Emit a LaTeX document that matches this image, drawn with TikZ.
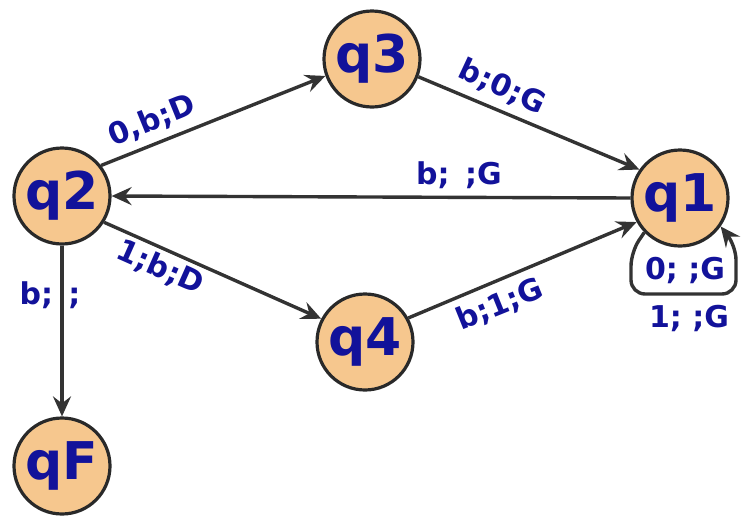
\documentclass[tikz,border=0pt]{standalone}
\usepackage{fontspec}
\setmainfont{DejaVu Sans}
\usetikzlibrary{arrows.meta}
\definecolor{stfill}{HTML}{F6C78E}
\definecolor{txtblue}{HTML}{12129A}
\definecolor{edgec}{HTML}{333333}
\tikzset{
  state/.style={circle, draw=edgec!80!black, line width=3.2pt, fill=stfill, minimum size=96pt, inner sep=0pt,
    text=txtblue, font=\fontsize{52}{52}\selectfont\bfseries},
  lab/.style={text=txtblue, font=\fontsize{30}{30}\selectfont\bfseries, inner sep=0pt},
  edge/.style={draw=edgec, line width=3.4pt, -{Stealth[length=20pt,width=18pt,inset=7pt]}},
}
\begin{document}
\begin{tikzpicture}[x=1pt,y=-1pt]
\useasboundingbox (0,0) rectangle (741,517);
\node[state] (q2) at (62,196) {q2};
\node[state] (q3) at (372,59) {q3};
\node[state] (q1) at (680,198) {q1};
\node[state] (q4) at (365,342) {q4};
\node[state] (qF) at (62,466) {qF};

\draw[edge] (q2.38) -- (q3.200);
\draw[edge] (q3.-21) -- (q1.145);
\draw[edge] (q1.west) -- (q2.east);
\draw[edge] (q2.-32) -- (q4.152);
\draw[edge] (q4.29) -- (q1.209);
\draw[edge] (q2.south) -- (qF.north);
\draw[edge, rounded corners=14pt] (q1.224) -- (631,252) -- (631,294) -- (736,294) -- (736,246) -- (q1.-35);

\node[lab, rotate=22] (l23) at (152,121) {0,b;D};
\node[lab, rotate=-25] (l31) at (502,87) {b;0;G};
\node[lab] (l12) at (459,175) {b; \,;G};
\node[lab, rotate=-24] (l24) at (160,268) {1;b;D};
\node[lab, rotate=22] (l41) at (500,305) {b;1;G};
\node[lab] (l2F) at (50,295) {b; \,;};
\node[lab] (l11a) at (685,270) {0; ;G};
\node[lab] (l11b) at (689,318) {1; ;G};
\end{tikzpicture}
\end{document}
